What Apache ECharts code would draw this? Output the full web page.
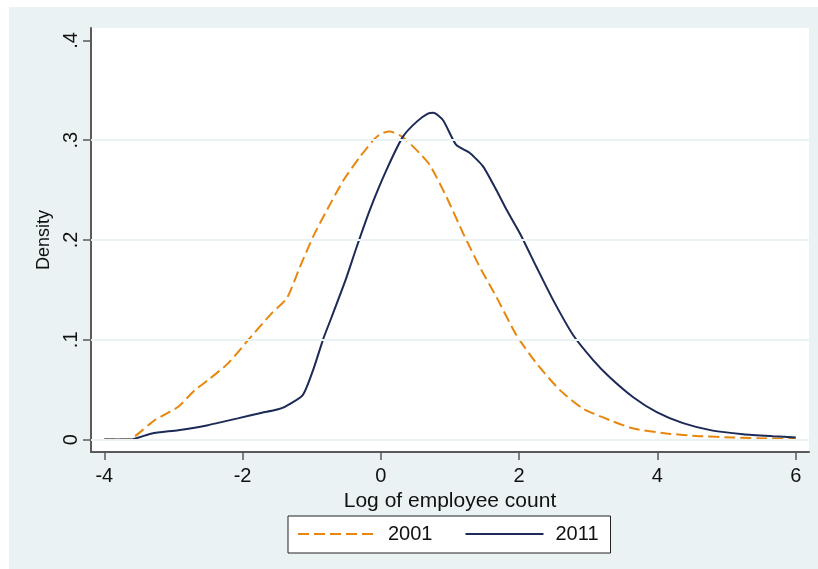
<!DOCTYPE html>
<html>
<head>
<meta charset="utf-8">
<script src="https://cdn.jsdelivr.net/npm/echarts@6/dist/echarts.min.js"></script>
<style>
  html, body { margin: 0; padding: 0; background: #ffffff; }
  #chart { width: 818px; height: 569px; }
</style>
</head>
<body>
<div id="chart"></div>
<script>
// Kernel density of log employee count, 2001 vs 2011
const xTicks = [-4, -2, 0, 2, 4, 6];
const yTicks = [0, 0.1, 0.2, 0.3, 0.4];
const gridValues = [0, 0.1, 0.2, 0.3];

const x2001 = [-4.0, -3.63, -3.56, -3.27, -2.93, -2.69, -2.50, -2.21, -1.92, -1.58, -1.36, -1.17, -0.98, -0.78, -0.54, -0.30, -0.11, 0.0, 0.13, 0.27, 0.37, 0.56, 0.71, 0.95, 1.19, 1.43, 1.67, 1.96, 2.25, 2.59, 2.92, 3.31, 3.65, 4.13, 4.61, 5.09, 5.58, 6.0];
const y2001 = [0, 0, 0.003, 0.0195, 0.0329, 0.0496, 0.0596, 0.0764, 0.0997, 0.1265, 0.1416, 0.173, 0.2033, 0.230, 0.260, 0.2835, 0.300, 0.3065, 0.3086, 0.305, 0.300, 0.287, 0.275, 0.243, 0.2067, 0.173, 0.143, 0.1048, 0.0764, 0.0496, 0.0312, 0.0195, 0.0112, 0.0062, 0.0035, 0.0022, 0.0012, 0.0008];

const x2011 = [-4.0, -3.63, -3.31, -2.93, -2.50, -2.07, -1.72, -1.53, -1.39, -1.13, -0.98, -0.83, -0.71, -0.51, -0.35, -0.16, 0.08, 0.32, 0.52, 0.68, 0.76, 0.90, 1.09, 1.29, 1.48, 1.67, 1.82, 2.01, 2.25, 2.49, 2.78, 3.07, 3.31, 3.65, 3.99, 4.37, 4.80, 5.24, 5.67, 6.0];
const y2011 = [0, 0, 0.0062, 0.0095, 0.0145, 0.0213, 0.0269, 0.0296, 0.0329, 0.0446, 0.0697, 0.1015, 0.1231, 0.160, 0.193, 0.230, 0.270, 0.3036, 0.3186, 0.3265, 0.3275, 0.320, 0.2952, 0.287, 0.2735, 0.250, 0.230, 0.2067, 0.173, 0.140, 0.1048, 0.0797, 0.0625, 0.0425, 0.0275, 0.0165, 0.0090, 0.0055, 0.0035, 0.0022];

const zip = (xs, ys) => xs.map((x, i) => [x, ys[i]]);

const FONT = 'Liberation Sans, Arial, sans-serif';
const BG = '#eaf2f3';
const ORANGE = '#e8870e';
const NAVY = '#1c2a57';
const AXIS = '#5a5a5a';

const chart = echarts.init(document.getElementById('chart'), null, { renderer: 'canvas' });

chart.setOption({
  animation: false,
  backgroundColor: 'transparent',
  textStyle: { fontFamily: FONT },
  graphic: [{
    type: 'rect',
    z: -100,
    silent: true,
    shape: { x: 9, y: 7, width: 809, height: 562 },
    style: { fill: BG }
  }],
  grid: {
    left: 91, right: 9, top: 28, bottom: 117,
    show: true, backgroundColor: '#ffffff', borderWidth: 0,
    containLabel: false
  },
  legend: {
    data: ['2001', '2011'],
    left: 288,
    top: 516,
    backgroundColor: '#ffffff',
    borderColor: '#222222',
    borderWidth: 1,
    borderRadius: 0,
    padding: [8, 12, 9, 9],
    itemGap: 32,
    itemWidth: 78,
    itemHeight: 14,
    itemStyle: { opacity: 0 },
    textStyle: { fontSize: 20, color: '#111111', fontFamily: FONT, padding: [0, 0, 0, 7] }
  },
  xAxis: {
    type: 'value',
    min: -4.192,
    max: 6.192,
    name: 'Log of employee count',
    nameLocation: 'middle',
    nameGap: 27,
    nameTextStyle: { fontSize: 21, color: '#111111', fontFamily: FONT },
    axisLine: { show: true, onZero: false, lineStyle: { color: AXIS, width: 2 } },
    axisTick: { show: true, length: 8, customValues: xTicks, lineStyle: { color: AXIS, width: 1.5 } },
    axisLabel: { customValues: xTicks, fontSize: 20, color: '#111111', margin: 14, fontFamily: FONT },
    splitLine: { show: false }
  },
  yAxis: {
    type: 'value',
    min: -0.0124,
    max: 0.4124,
    name: 'Density',
    nameLocation: 'middle',
    nameRotate: 90,
    nameGap: 33,
    nameTextStyle: { fontSize: 18, color: '#111111', fontFamily: FONT },
    axisLine: { show: true, onZero: false, lineStyle: { color: AXIS, width: 2 } },
    axisTick: { show: true, length: 8, customValues: yTicks, lineStyle: { color: AXIS, width: 1.5 } },
    axisLabel: {
      customValues: yTicks,
      rotate: 90,
      fontSize: 20,
      color: '#111111',
      margin: 10,
      fontFamily: FONT,
      formatter: v => (v === 0 ? '0' : String(+v.toFixed(1)).replace(/^0/, ''))
    },
    splitLine: { show: false }
  },
  series: [
    {
      name: 'gridlines',
      type: 'line',
      data: [],
      z: 1,
      silent: true,
      markLine: {
        silent: true,
        symbol: 'none',
        label: { show: false },
        lineStyle: { color: BG, width: 2, type: 'solid' },
        data: gridValues.map(v => ({ yAxis: v }))
      }
    },
    {
      name: '2001',
      type: 'line',
      data: zip(x2001, y2001),
      z: 3,
      symbol: 'none',
      smooth: 0.2,
      color: ORANGE,
      lineStyle: { color: ORANGE, width: 2, type: [11, 5] }
    },
    {
      name: '2011',
      type: 'line',
      data: zip(x2011, y2011),
      z: 4,
      symbol: 'none',
      smooth: 0.2,
      color: NAVY,
      lineStyle: { color: NAVY, width: 2, type: 'solid' }
    }
  ]
});
</script>
</body>
</html>
